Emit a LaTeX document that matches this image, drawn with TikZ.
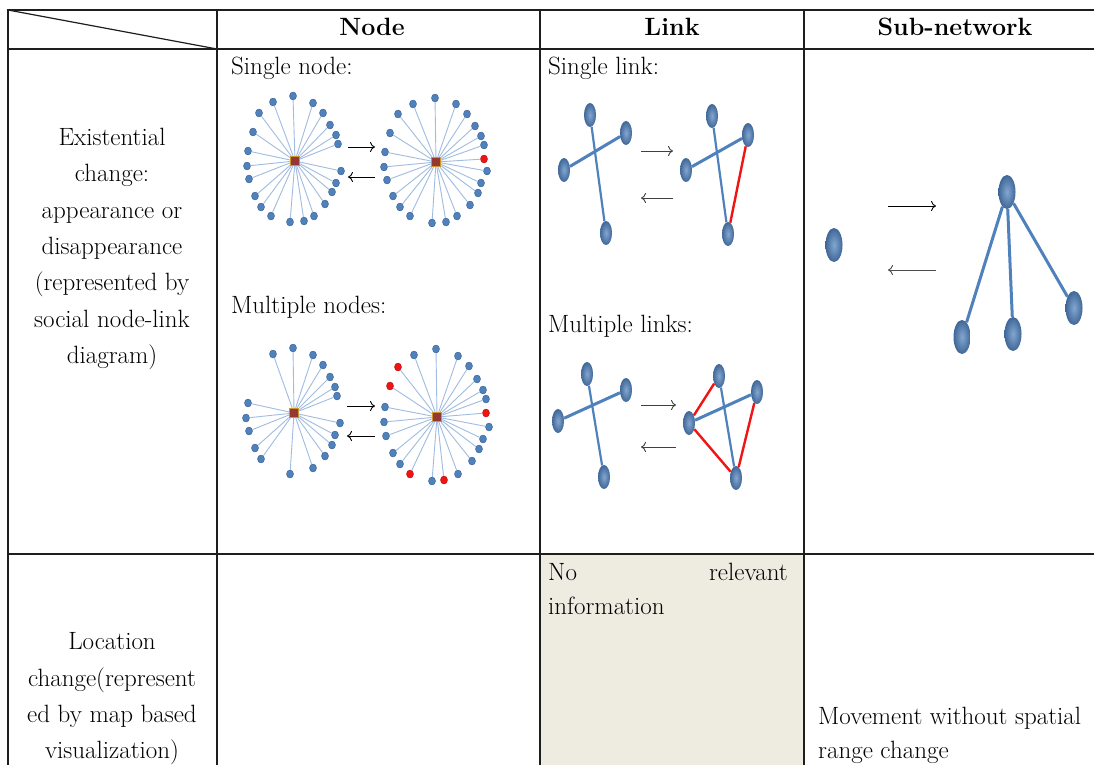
\documentclass[tikz,border=0pt]{standalone}
\usepackage{xcolor}
\usepackage{tikz}
\usetikzlibrary{shapes.geometric,arrows.meta}
\definecolor{nb}{RGB}{79,129,189}
\definecolor{nr}{RGB}{240,20,20}
\definecolor{spokeblue}{RGB}{160,188,224}
\definecolor{hubred}{RGB}{149,55,53}
\definecolor{hubgold}{RGB}{205,150,40}
\definecolor{paper}{RGB}{238,235,225}
\definecolor{rulegray}{RGB}{30,30,30}
\newcommand{\txtfont}{\fontsize{25}{36.3}\selectfont}
% a hub with its ring of dots: name, x, y, list of dx/dy/colour
\newcommand{\hubring}[4]{%
  \node[hubsq] (#1) at (#2,#3) {};
  \foreach \dx/\dy/\col [count=\i] in {#4} {
    \node[dot, fill=\col, draw=\col!75!black] (#1-\i) at ([shift={(\dx,\dy)}]#1) {};
    \draw[spoke] (#1) -- (#1-\i);
  }%
}

\begin{document}
\begin{tikzpicture}[x=1pt, y=-1pt]
        \tikzstyle{rule}=[rulegray, line width=2]
        \tikzstyle{txt}=[font=\txtfont, inner sep=0]
        \tikzstyle{head}=[font=\txtfont\bfseries, inner sep=0]
        \tikzstyle{dot}=[ellipse, inner sep=0, minimum width=7, minimum height=8, line width=0.4]
        \tikzstyle{hubsq}=[rectangle, inner sep=0, minimum size=9.5, fill=hubred, draw=hubgold, line width=0.8]
        \tikzstyle{spoke}=[spokeblue, line width=0.9]
        \tikzstyle{vert}=[ellipse, inner sep=0, minimum width=12, minimum height=24, shading=radial, inner color=nb!70!white, outer color=nb!80!black]
        \tikzstyle{bigvert}=[vert, minimum width=17, minimum height=34]
        \tikzstyle{tie}=[nb, line width=3]
        \tikzstyle{newtie}=[nr, line width=2.4]
        \tikzstyle{flow}=[-{To[length=5,width=10]}, line width=0.9]
        \useasboundingbox (0,0) rectangle (1094,765);
        \fill[white] (0,0) rectangle (1094,765);
        \fill[paper] (541,555) rectangle (803,765);
        % table
        \draw[rule] (8,10) -- (1094,10);
        \draw[rule] (8,49) -- (1094,49);
        \draw[rule] (8,554) -- (1094,554);
        \draw[rule] (8,9) -- (8,765);
        \draw[rule] (217,9) -- (217,765);
        \draw[rule] (540,9) -- (540,765);
        \draw[rule] (804,9) -- (804,765);
        \draw[rulegray, line width=1.2] (8,10) -- (217,49);
        \node[head, anchor=base] (hnode) at (372,36) {Node};
        \node[head, anchor=base] (hlink) at (672,36) {Link};
        \node[head, anchor=base] (hsub)  at (955,36) {Sub-network};
        \node[txt, align=center] (exist) at (112,249) {Existential\\change:\\appearance or\\disappearance\\(represented by\\social node-link\\diagram)};
        \node[txt, align=center] (locat) at (112,699) {Location\\change(represent\\ed by map based\\visualization)};
        % node column
        \node[txt, anchor=base west] (snode) at (231,75) {Single node:};
        \hubring{sa}{295}{161}{-2/-65/nb,-22/-59/nb,18/-58/nb,-36/-48/nb,28/-48/nb,35/-36/nb,-42/-29/nb,41/-26/nb,43/-17/nb,-47/-10/nb,-48/5/nb,46/10/nb,-46/18/nb,41/22/nb,37/31/nb,-40/35/nb,30/43/nb,-34/46/nb,-24/55/nb,19/55/nb,9/60/nb,-5/61/nb}
        \hubring{sb}{436}{162}{-1/-64/nb,-23/-58/nb,20/-58/nb,-38/-48/nb,31/-48/nb,39/-36/nb,-46/-29/nb,45/-26/nb,48/-17/nb,-51/-10/nb,48/-3/nr,-52/5/nb,51/9/nb,-49/18/nb,45/21/nb,42/31/nb,-43/34/nb,34/43/nb,-36/45/nb,-26/54/nb,21/54/nb,-4/61/nb,10/60/nb}
        \coordinate (s-r0) at (348,147); \coordinate (s-r1) at (375,147);
        \coordinate (s-l0) at (375,177); \coordinate (s-l1) at (348,177);
        \draw[flow] (s-r0) -- (s-r1);
        \draw[flow] (s-l0) -- (s-l1);
        \node[txt, anchor=base west] (mnode) at (231,313) {Multiple nodes:};
        \hubring{ma}{294}{413}{-1/-65/nb,-21/-59/nb,19/-58/nb,29/-48/nb,36/-36/nb,41/-26/nb,43/-17/nb,-46/-10/nb,-48/5/nb,46/10/nb,-45/18/nb,41/22/nb,38/32/nb,-39/35/nb,31/43/nb,-33/46/nb,19/55/nb,-4/61/nb}
        \hubring{mb}{437}{417}{-1/-68/nb,-23/-62/nb,21/-61/nb,-39/-50/nr,32/-51/nb,-47/-31/nr,40/-38/nb,46/-27/nb,49/-18/nb,-52/-10/nb,49/-4/nr,-53/5/nb,52/10/nb,-51/19/nb,46/22/nb,42/32/nb,-44/36/nb,35/44/nb,-37/47/nb,-27/57/nr,21/57/nb,-5/64/nb,7/63/nr}
        \coordinate (m-r0) at (347,406); \coordinate (m-r1) at (375,406);
        \coordinate (m-l0) at (375,436); \coordinate (m-l1) at (347,436);
        \draw[flow] (m-r0) -- (m-r1);
        \draw[flow] (m-l0) -- (m-l1);
        % link column
        \node[txt, anchor=base west] (slink) at (548,75) {Single link:};
        \node[vert] (la) at (590,115) {};
        \node[vert] (lb) at (626,133) {};
        \node[vert] (lc) at (564,170) {};
        \node[vert] (ld) at (606,233) {};
        \draw[tie, line width=2.2] (la) -- (ld);
        \draw[tie] (lc) -- (lb);
        \node[vert] (lae) at (712,116) {};
        \node[vert] (lbe) at (748,135) {};
        \node[vert] (lce) at (686,170) {};
        \node[vert] (lde) at (728,234) {};
        \draw[tie, line width=2.2] (lae) -- (lde);
        \draw[tie] (lce) -- (lbe);
        \draw[newtie] (lbe) -- (lde);
        \coordinate (l-r0) at (641,151); \coordinate (l-r1) at (673,151);
        \coordinate (l-l0) at (673,198); \coordinate (l-l1) at (641,198);
        \draw[flow, black!75] (l-r0) -- (l-r1);
        \draw[flow, black!75] (l-l0) -- (l-l1);
        \node[txt, anchor=base west] (mlink) at (548,332) {Multiple links:};
        \node[vert] (ka) at (587,374) {};
        \node[vert] (kb) at (626,390) {};
        \node[vert] (kc) at (558,421) {};
        \node[vert] (kd) at (604,477) {};
        \draw[tie, line width=2.2] (ka) -- (kd);
        \draw[tie] (kc) -- (kb);
        \node[vert] (kae) at (719,376) {};
        \node[vert] (kbe) at (757,392) {};
        \node[vert] (kce) at (689,423) {};
        \node[vert] (kde) at (736,478) {};
        \draw[tie, line width=2.2] (kae) -- (kde);
        \draw[tie] (kce) -- (kbe);
        \draw[newtie] (kce) -- (kae);
        \draw[newtie] (kce) -- (kde);
        \draw[newtie] (kbe) -- (kde);
        \coordinate (k-r0) at (641,405); \coordinate (k-r1) at (676,405);
        \coordinate (k-l0) at (676,447); \coordinate (k-l1) at (641,447);
        \draw[flow, black!75] (k-r0) -- (k-r1);
        \draw[flow, black!75] (k-l0) -- (k-l1);
        \node[txt, anchor=base west] (norel) at (548,580) {No};
        \node[txt, anchor=base east] (relev) at (788,580) {relevant};
        \node[txt, anchor=base west] (inform) at (548,614) {information};
        % sub-network column
        \node[bigvert] (solo) at (834,245) {};
        \node[bigvert] (root) at (1007,192) {};
        \node[bigvert] (leafa) at (962,337) {};
        \node[bigvert] (leafb) at (1013,334) {};
        \node[bigvert] (leafc) at (1074,308) {};
        \draw[tie, line width=3] (root) -- (leafa);
        \draw[tie, line width=3] (root) -- (leafb);
        \draw[tie, line width=3] (root) -- (leafc);
        \coordinate (n-r0) at (888,206); \coordinate (n-r1) at (936,206);
        \coordinate (n-l0) at (936,270); \coordinate (n-l1) at (888,270);
        \draw[flow] (n-r0) -- (n-r1);
        \draw[flow, black!70] (n-l0) -- (n-l1);
        \node[txt, anchor=base west] (moves) at (818,724) {Movement without spatial};
        \node[txt, anchor=base west] (range) at (818,758) {range change};
\end{tikzpicture}
\end{document}
